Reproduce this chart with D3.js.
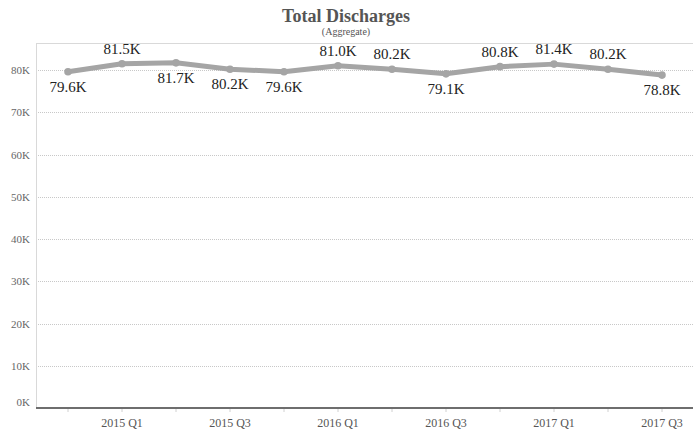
<!DOCTYPE html>
<html><head><meta charset="utf-8">
<script src="https://cdn.jsdelivr.net/npm/d3@7"></script>
<style>body{margin:0;background:#fff}svg{display:block}svg text{font-family:"Liberation Serif",serif}</style>
</head><body>
<svg id="c" width="693" height="434"></svg>
<script>
const quarters = ["2014 Q4","2015 Q1","2015 Q2","2015 Q3","2015 Q4","2016 Q1","2016 Q2","2016 Q3","2016 Q4","2017 Q1","2017 Q2","2017 Q3"];
const discharges = [79.6, 81.5, 81.7, 80.2, 79.6, 81.0, 80.2, 79.1, 80.8, 81.4, 80.2, 78.8];
const labelAbove = [false, true, false, false, false, true, true, false, true, true, true, false];
const yTicks = [0, 10, 20, 30, 40, 50, 60, 70, 80];
const xTickLabels = ["2015 Q1","2015 Q3","2016 Q1","2016 Q3","2017 Q1","2017 Q3"];

const W = 693, H = 434;
const pLeft = 36, pRight = 693, pTop = 43, pBottom = 408;
const svg = d3.select("#c");
const font = "Liberation Serif";

const x = d3.scaleBand().domain(quarters).range([41, 689]);
const cx = d => x(d) + x.bandwidth() / 2;
const y = d3.scaleLinear().domain([0, 86.4]).range([pBottom, pTop]);

// title
svg.append("text").attr("x", 346).attr("y", 22).attr("text-anchor", "middle")
  .style("font-family", font).style("font-size", "18px").style("font-weight", "bold").attr("fill", "#555")
  .text("Total Discharges");
svg.append("text").attr("x", 346).attr("y", 35).attr("text-anchor", "middle")
  .style("font-family", font).style("font-size", "10px").attr("fill", "#555")
  .text("(Aggregate)");

// gridlines
svg.append("g").selectAll("line").data(yTicks.filter(d => d > 0)).join("line")
  .attr("x1", pLeft).attr("x2", pRight).attr("y1", d => Math.round(y(d)) + 0.5).attr("y2", d => Math.round(y(d)) + 0.5)
  .attr("stroke", "#c8c8c8").attr("stroke-width", 1).attr("stroke-dasharray", "1,1");

// borders
svg.append("line").attr("x1", pLeft).attr("x2", pRight).attr("y1", pTop + 0.5).attr("y2", pTop + 0.5)
  .attr("stroke", "#d9d9d9");
svg.append("line").attr("x1", pLeft + 0.5).attr("x2", pLeft + 0.5).attr("y1", pTop).attr("y2", pBottom)
  .attr("stroke", "#d9d9d9");

// y axis labels
const yAxis = d3.axisLeft(y).tickValues(yTicks).tickFormat(d => d + "K").tickSize(0).tickPadding(6);
const gy = svg.append("g").attr("transform", `translate(${pLeft},0)`).call(yAxis);
gy.select(".domain").remove();
gy.attr("font-family", null);
gy.selectAll("text").style("font-family", font).style("font-size", "11px").attr("fill", "#666");
gy.selectAll(".tick").filter(d => d === 0).select("text").attr("dy", "-0.2em");

// x axis
const xAxis = d3.axisBottom(x).tickSize(4).tickPadding(6)
  .tickFormat(d => xTickLabels.includes(d) ? d : "");
const gx = svg.append("g").attr("transform", `translate(0,${pBottom})`).call(xAxis);
gx.select(".domain").remove();
gx.attr("font-family", null);
gx.selectAll(".tick line").attr("stroke", "#d0d0d0");
gx.selectAll("text").style("font-family", font).style("font-size", "12px").attr("fill", "#555");
svg.append("line").attr("x1", pLeft).attr("x2", pRight).attr("y1", pBottom).attr("y2", pBottom)
  .attr("stroke", "#6e6e6e").attr("stroke-width", 2);

// line
const line = d3.line().x((d, i) => cx(quarters[i])).y(d => y(d));
svg.append("path").datum(discharges).attr("d", line).attr("fill", "none")
  .attr("stroke", "#a5a5a5").attr("stroke-width", 5).attr("stroke-linejoin", "round").attr("stroke-linecap", "round");
svg.append("g").selectAll("circle").data(discharges).join("circle")
  .attr("cx", (d, i) => cx(quarters[i])).attr("cy", d => y(d)).attr("r", 3.8).attr("fill", "#a5a5a5");

// labels
svg.append("g").selectAll("text").data(discharges).join("text")
  .attr("x", (d, i) => {
    const px = cx(quarters[i]);
    if (i === 0) return Math.max(px, pLeft + 19);
    if (i === quarters.length - 1) return Math.min(px, W - 19);
    return px;
  })
  .attr("y", (d, i) => labelAbove[i] ? y(d) - 10 : y(d) + 20)
  .attr("text-anchor", "middle").style("font-family", font).style("font-size", "15px").attr("fill", "#222")
  .text(d => d.toFixed(1) + "K");
</script>
</body></html>
